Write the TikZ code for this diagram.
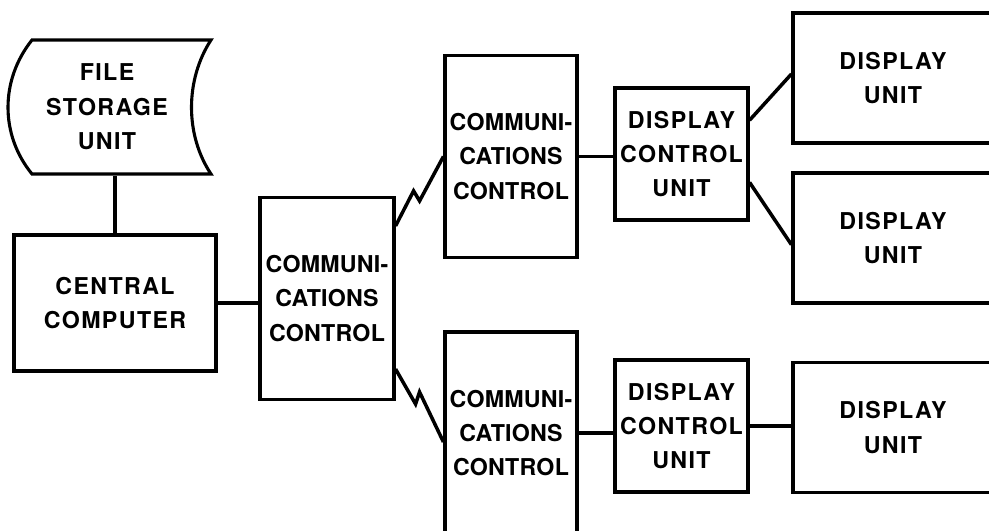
\documentclass[tikz,border=0pt]{standalone}
\usepackage{fontspec}
\setmainfont{TeX Gyre Heros}
\usetikzlibrary{calc}

\tikzset{
  unit/.style={draw, line width=2.2pt, align=center, inner sep=0pt,
    font=\fontsize{16.5}{24.5}\selectfont\bfseries\addfontfeature{LetterSpace=6}},
  comm/.style={unit, minimum width=3.3cm, minimum height=5.05cm,
    font=\fontsize{16.5}{24.5}\selectfont\bfseries\addfontfeature{LetterSpace=1}},
  wire/.style={line width=2.5pt}
}

\begin{document}
\begin{tikzpicture}[x=0.025cm,y=-0.025cm,line join=miter]

\clip (0,0) rectangle (989,531);

\node[unit,draw=none,minimum width=3.75cm,minimum height=3.35cm] (store) at (107,107) {FILE\\STORAGE\\UNIT};
\draw[line width=2.2pt] (32,40) -- (211,40) .. controls (185,80) and (185,135) .. (211,174)
  -- (32,174) .. controls (0,135) and (0,80) .. (32,40) -- cycle;

\node[unit,minimum width=5.05cm,minimum height=3.4cm] (central) at (115,303) {CENTRAL\\COMPUTER};
\node[comm,minimum width=3.35cm] (comm1) at (327,298.5) {COMMUNI-\\CATIONS\\CONTROL};

\node[comm] (comm2) at (511,156.5) {COMMUNI-\\CATIONS\\CONTROL};
\node[comm] (comm3) at (511,433) {COMMUNI-\\CATIONS\\CONTROL};

\node[unit,minimum width=3.325cm,minimum height=3.3cm] (dcu1) at (681.5,154) {DISPLAY\\CONTROL\\UNIT};
\node[unit,minimum width=3.325cm,minimum height=3.3cm] (dcu2) at (681.5,426) {DISPLAY\\CONTROL\\UNIT};

\node[unit,minimum width=5cm,minimum height=3.25cm] (disp1) at (893,78) {DISPLAY\\UNIT};
\node[unit,minimum width=5cm,minimum height=3.25cm] (disp2) at (893,238) {DISPLAY\\UNIT};
\node[unit,minimum width=5cm,minimum height=3.25cm] (disp3) at (893,427.5) {DISPLAY\\UNIT};

\draw[wire] (central.north) -- (central.north |- store.south);
\draw[wire] (central.east) -- (central.east -| comm1.west);

\draw[wire] ($(comm1.north east)+(0,30)$) -- ++(18,-35) -- ++(6,10) -- (comm2.west);
\draw[wire] ($(comm1.south east)+(0,-32)$) -- ++(20,35) -- ++(4,-12) -- ($(comm3.west)+(0,9)$);

\draw[wire] (comm2.east) -- (comm2.east -| dcu1.west);
\draw[wire] (comm3.east) -- (comm3.east -| dcu2.west);

\draw[wire] ($(dcu1.north east)!0.25!(dcu1.south east)$) -- ($(disp1.north west)!0.47!(disp1.south west)$);
\draw[wire] ($(dcu1.north east)!0.71!(dcu1.south east)$) -- ($(disp2.north west)!0.55!(disp2.south west)$);
\draw[wire] (dcu2.east) -- (dcu2.east -| disp3.west);

\end{tikzpicture}
\end{document}
